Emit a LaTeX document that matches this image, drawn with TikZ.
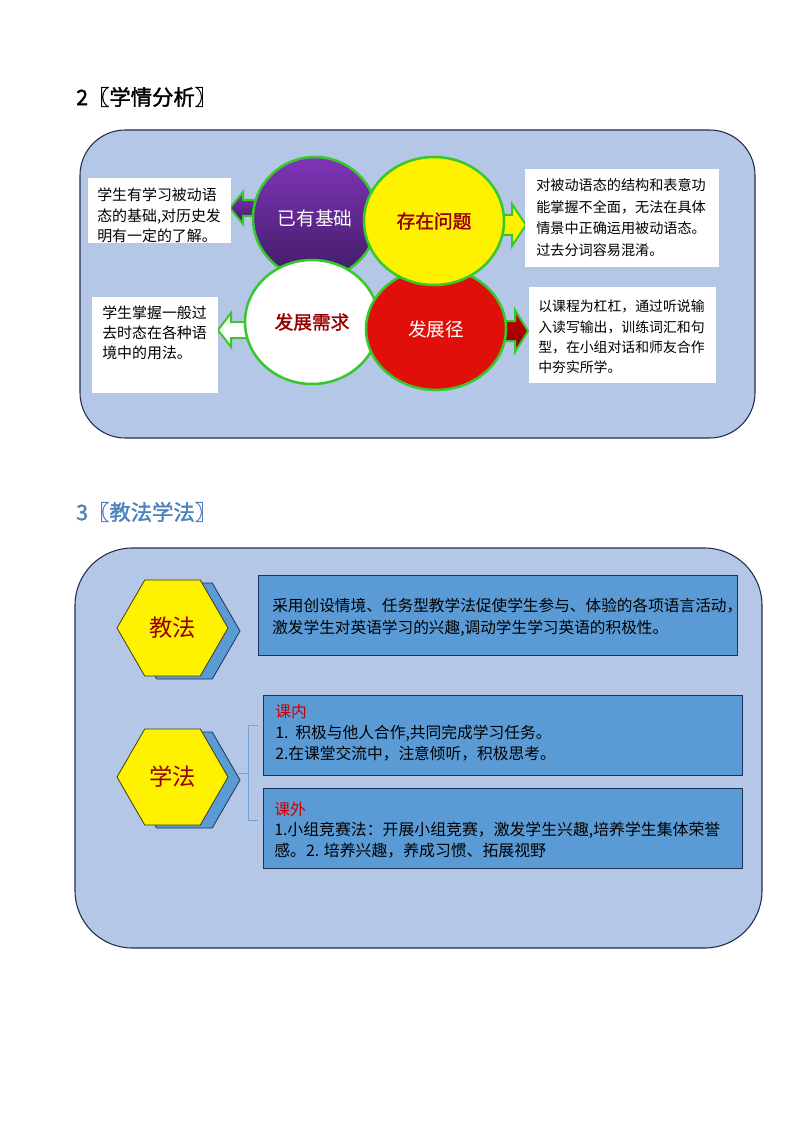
\documentclass[tikz,border=0pt]{standalone}
\usepackage{fontspec}
\setmainfont{Noto Sans CJK SC}
\newfontfamily\cjkbold[FakeBold=1.6]{Noto Sans CJK SC}
\usetikzlibrary{shapes.geometric}
\definecolor{panelfill}{RGB}{180,199,231}
\definecolor{panelline}{RGB}{35,45,75}
\definecolor{ringgreen}{RGB}{55,200,45}
\definecolor{purpletop}{RGB}{128,52,185}
\definecolor{purplebot}{RGB}{62,28,100}
\definecolor{circred}{RGB}{225,15,10}
\definecolor{arrowred}{RGB}{200,0,0}
\definecolor{arrowredd}{RGB}{140,0,0}
\definecolor{darkred}{RGB}{150,0,0}
\definecolor{headblue}{RGB}{79,129,189}
\definecolor{boxblue}{RGB}{91,155,213}
\definecolor{boxline}{RGB}{30,50,90}
\definecolor{labelred}{RGB}{200,0,0}
\definecolor{hexline}{RGB}{60,60,20}
\definecolor{brack}{RGB}{120,160,210}
\tikzset{
  panel/.style={draw=panelline, fill=panelfill, line width=0.8pt, inner sep=0pt},
  bub/.style={ellipse, draw=ringgreen, line width=1.9pt, inner sep=0pt},
  blockarrow/.style={draw=ringgreen, line width=1.5pt, line join=miter},
  wbox/.style={fill=white, draw=none, inner sep=0pt},
  txt/.style={anchor=west, align=left, inner sep=0pt},
  bbox/.style={draw=boxline, fill=boxblue, line width=0.7pt, inner sep=0pt,
               minimum width=359.25pt, minimum height=60pt},
  hexshadow/.style={fill=boxblue, draw=boxline, line width=0.6pt},
  hexface/.style={fill=yellow, draw=hexline, line width=0.6pt},
  hexlabel/.style={text=darkred, font=\fontsize{17.5}{20}\selectfont},
  brackline/.style={draw=brack, line width=0.6pt}
}
\begin{document}
\begin{tikzpicture}[x=0.75pt,y=-0.75pt]
\useasboundingbox (0,0) rectangle (794,1123);
\fill[white] (0,0) rectangle (794,1123);

% ---------- section 2 ----------
\node[anchor=west, inner sep=0pt, font=\cjkbold\fontsize{16}{19}\selectfont] (h2) at (76,97) {2〖学情分析〗};
\node[panel, minimum width=506.25pt, minimum height=231pt, rounded corners=34pt] (p1) at (417.5,284) {};

% block arrows
\draw[blockarrow, top color=purpletop, bottom color=purplebot]
  (230,208) -- (243,192) -- (243,200) -- (262,200) -- (262,216) -- (243,216) -- (243,224) -- cycle;
\draw[blockarrow, fill=yellow]
  (526,225) -- (512,204) -- (512,215) -- (495,215) -- (495,235) -- (512,235) -- (512,246) -- cycle;
\draw[blockarrow, fill=white]
  (218,330) -- (231,313) -- (231,322) -- (256,322) -- (256,338) -- (231,338) -- (231,347) -- cycle;
\draw[blockarrow, top color=arrowred, bottom color=arrowredd]
  (528,331) -- (515,310) -- (515,321) -- (498,321) -- (498,341) -- (515,341) -- (515,352) -- cycle;

% circles
\node[bub, top color=purpletop, bottom color=purplebot, minimum width=93pt, minimum height=91.5pt,
      text=white, font=\fontsize{14}{16}\selectfont] (base) at (315,218) {已有基础};
\node[bub, fill=white, minimum width=100.5pt, minimum height=93pt,
      text=darkred, font=\cjkbold\fontsize{14}{16}\selectfont] (need) at (312,322) {发展需求};
\node[bub, fill=circred, minimum width=105pt, minimum height=91.5pt,
      text=white, font=\fontsize{14}{16}\selectfont] (path) at (436,329) {发展径};
\node[bub, fill=yellow, minimum width=105pt, minimum height=96pt,
      text=darkred, font=\cjkbold\fontsize{14}{16}\selectfont] (prob) at (434,221) {存在问题};

% white text boxes
\node[wbox, anchor=north west, minimum width=107.25pt, minimum height=48.75pt] (tb1) at (88,178) {};
\node[txt, font=\fontsize{11.2}{15.4}\selectfont] (t1) at (97,215.5)
  {学生有学习被动语\\态的基础,对历史发\\明有一定的了解。};
\node[wbox, anchor=north west, minimum width=145.5pt, minimum height=73.5pt] (tb2) at (525,169) {};
\node[txt, font=\fontsize{10.6}{16.2}\selectfont] (t2) at (536,217.5)
  {对被动语态的结构和表意功\\能掌握不全面，无法在具体\\情景中正确运用被动语态。\\过去分词容易混淆。};
\node[wbox, anchor=north west, minimum width=94.5pt, minimum height=72pt] (tb3) at (92,297) {};
\node[txt, font=\fontsize{11.2}{15}\selectfont] (t3) at (102,333)
  {学生掌握一般过\\去时态在各种语\\境中的用法。};
\node[wbox, anchor=north west, minimum width=140.25pt, minimum height=72pt] (tb4) at (529,287) {};
\node[txt, font=\fontsize{10.4}{15.2}\selectfont] (t4) at (538,337)
  {以课程为杠杠，通过听说输\\入读写输出，训练词汇和句\\型，在小组对话和师友合作\\中夯实所学。};

% ---------- section 3 ----------
\node[anchor=west, inner sep=0pt, text=headblue, font=\cjkbold\fontsize{16}{19}\selectfont] (h3) at (76,512) {3〖教法学法〗};
\node[panel, minimum width=515.25pt, minimum height=300pt, rounded corners=43pt] (p2) at (418.5,748) {};

% hexagon 教法
\draw[hexshadow] (129,631) -- (156.75,583) -- (212.25,583) -- (240,631) -- (212.25,679) -- (156.75,679) -- cycle;
\draw[hexface] (117,628) -- (144.75,580) -- (200.25,580) -- (228,628) -- (200.25,676) -- (144.75,676) -- cycle;
\node[hexlabel] (teach) at (172.5,628) {教法};

% hexagon 学法
\draw[hexshadow] (129,780) -- (156.75,732) -- (212.25,732) -- (240,780) -- (212.25,828) -- (156.75,828) -- cycle;
\draw[hexface] (117,777) -- (144.75,729) -- (200.25,729) -- (228,777) -- (200.25,825) -- (144.75,825) -- cycle;
\node[hexlabel] (learn) at (172.5,777) {学法};

% blue boxes
\node[bbox] (b1) at (497.5,615) {};
\node[txt, font=\fontsize{11.75}{16.5}\selectfont] (bt1) at (272,617)
  {采用创设情境、任务型教学法促使学生参与、体验的各项语言活动，\\激发学生对英语学习的兴趣,调动学生学习英语的积极性。};
\node[bbox] (b2) at (502.5,735) {};
\node[txt, font=\fontsize{11.8}{15.75}\selectfont] (bt2) at (275,733)
  {\textcolor{labelred}{课内}\\1.\ \ 积极与他人合作,共同完成学习任务。\\2.在课堂交流中，注意倾听，积极思考。};
\node[bbox] (b3) at (502.5,828) {};
\node[txt, font=\fontsize{11.9}{15.5}\selectfont] (bt3) at (274,830)
  {\textcolor{labelred}{课外}\\1.小组竞赛法：开展小组竞赛，激发学生兴趣,培养学生集体荣誉\\感。2. 培养兴趣，养成习惯、拓展视野};

% bracket
\coordinate (brtop) at (b2.west |- 0,725);
\coordinate (brbot) at (b3.west |- 0,820);
\draw[brackline] ([xshift=-3.75pt]brtop) -- (248,725) -- (248,820) -- ([xshift=-3.75pt]brbot);
\coordinate (brmid) at (238,773);
\draw[brackline] (248,773) -- (brmid);
\end{tikzpicture}
\end{document}
